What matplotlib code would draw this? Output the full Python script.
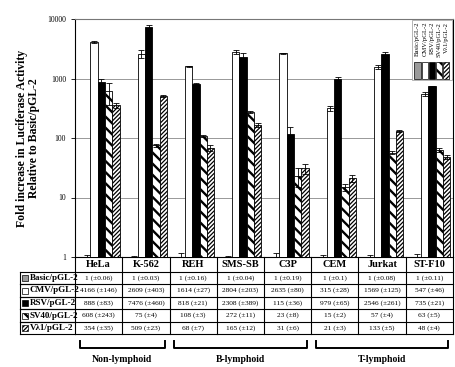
import numpy as np
import matplotlib
matplotlib.use("Agg")
import matplotlib.pyplot as plt
from matplotlib.patches import Rectangle
from matplotlib.ticker import FixedLocator, FixedFormatter

plt.rcParams['font.family'] = ['Liberation Serif', 'DejaVu Serif']
plt.rcParams['hatch.linewidth'] = 1.6

cells = ["HeLa", "K-562", "REH", "SMS-SB", "C3P", "CEM", "Jurkat", "ST-F10"]
constructs = ["Basic/pGL-2", "CMV/pGL-2", "RSV/pGL-2", "SV40/pGL-2", "V\u03bb1/pGL-2"]

basic = [1, 1, 1, 1, 1, 1, 1, 1]
basic_err = [0.06, 0.03, 0.16, 0.04, 0.19, 0.1, 0.08, 0.11]
cmv = [4166, 2609, 1614, 2804, 2635, 315, 1569, 547]
cmv_err = [146, 403, 27, 203, 80, 28, 125, 46]
rsv = [888, 7476, 818, 2308, 115, 979, 2546, 735]
rsv_err = [83, 460, 21, 389, 36, 65, 261, 21]
sv40 = [608, 75, 108, 272, 23, 15, 57, 63]
sv40_err = [243, 4, 3, 11, 8, 2, 4, 5]
vl1 = [354, 509, 68, 165, 31, 21, 133, 48]
vl1_err = [35, 23, 7, 12, 6, 3, 5, 4]

groups = ["Non-lymphoid", "B-lymphoid", "T-lymphoid"]
group_span = [(0, 2), (2, 5), (5, 8)]

values = [basic, cmv, rsv, sv40, vl1]
errors = [basic_err, cmv_err, rsv_err, sv40_err, vl1_err]
styles = [dict(facecolor="#9a9a9a", hatch=None),
          dict(facecolor="white", hatch=None),
          dict(facecolor="black", hatch=None),
          dict(facecolor="white", hatch="\\\\\\"),
          dict(facecolor="white", hatch="////////")]
hatch_lw = [1, 1, 1, 1.7, 0.9]

W, H = 456, 367
fig = plt.figure(figsize=(W / 100, H / 100), dpi=100)


def fx(px):
    return px / W


def fy(py):
    return 1 - py / H


def set_hlw(patch, k):
    if hasattr(patch, "set_hatch_linewidth"):
        patch.set_hatch_linewidth(hatch_lw[k])


ax = fig.add_axes([fx(75), fy(257), fx(453) - fx(75), fy(19) - fy(257)])
ax.set_yscale("log")
ax.set_ylim(1, 10000)
ax.set_xlim(0, len(cells))

x = np.arange(len(cells))
bw = 0.155
start = 0.17
for k in range(5):
    pos = x + start + k * bw + bw / 2
    bars = ax.bar(pos, np.array(values[k]) - 1, bottom=1, width=bw,
                  edgecolor="black", linewidth=0.6, zorder=3, **styles[k])
    for b in bars:
        set_hlw(b, k)
    ax.errorbar(pos, values[k], yerr=errors[k], fmt="none", ecolor="black",
                elinewidth=0.6, capsize=2.2, capthick=0.6, zorder=4)

ax.yaxis.set_major_locator(FixedLocator([1, 10, 100, 1000, 10000]))
ax.yaxis.set_major_formatter(FixedFormatter(["1", "10", "100", "1000", "10000"]))
ax.yaxis.set_minor_locator(FixedLocator([]))
ax.tick_params(axis="y", labelsize=5.5, length=3, width=0.6)
ax.set_xticks([])
ax.grid(axis="y", color="#888888", linewidth=0.6, zorder=0)
for s in ax.spines.values():
    s.set_linewidth(0.8)
ax.spines["top"].set_color("#777777")

fig.text(fx(28), fy(138), "Fold increase in Luciferase Activity\nRelative to Basic/pGL-2",
         rotation=90, ha="center", va="center", fontsize=8.5, fontweight="bold",
         linespacing=1.1)

# legend in the top right corner
lx0, lx1, ly0, ly1 = 412, 452, 20, 80
fig.add_artist(Rectangle((fx(lx0), fy(ly1)), fx(lx1) - fx(lx0), fy(ly0) - fy(ly1),
                         transform=fig.transFigure, facecolor="white",
                         edgecolor="#999999", linewidth=0.5, zorder=5))
step = (lx1 - lx0 - 4) / 5
for k in range(5):
    cx = lx0 + 2 + step * (k + 0.5)
    fig.text(fx(cx), fy(ly0 + 2), constructs[k], rotation=90, ha="center", va="top",
             fontsize=4.8, zorder=6)
    p = Rectangle((fx(cx - step / 2 + 0.5), fy(ly1 - 1)),
                  fx(step - 1), fy(62) - fy(ly1 - 1),
                  transform=fig.transFigure, edgecolor="black",
                  linewidth=0.5, zorder=6, **styles[k])
    set_hlw(p, k)
    fig.add_artist(p)

# data table under the plot
trans = matplotlib.transforms.blended_transform_factory(ax.transData, fig.transFigure)
row_tops = [257, 272, 284, 297, 309, 322, 334]
tab_left = 20
lw_t = 0.8
ax_line = dict(color="black", linewidth=lw_t, clip_on=False)
fig.add_artist(plt.Line2D([0, len(cells)], [fy(272)] * 2, transform=trans, **ax_line))
for i in range(len(cells) + 1):
    fig.add_artist(plt.Line2D([i, i], [fy(257), fy(334)], transform=trans, **ax_line))
for i, c in enumerate(cells):
    fig.text(i + 0.5, fy(264.5), c, transform=trans, ha="center", va="center",
             fontsize=7.5, fontweight="bold")
for r in range(5):
    ytop, ybot = row_tops[r + 1], row_tops[r + 2]
    fig.add_artist(plt.Line2D([fx(tab_left), fx(75)], [fy(ytop)] * 2,
                              transform=fig.transFigure, **ax_line))
    fig.add_artist(plt.Line2D([0, len(cells)], [fy(ybot)] * 2, transform=trans, **ax_line))
    fig.add_artist(plt.Line2D([fx(tab_left), fx(75)], [fy(ybot)] * 2,
                              transform=fig.transFigure, **ax_line))
    ym = (ytop + ybot) / 2
    p = Rectangle((fx(22), fy(ym + 3)), fx(6), fy(ym - 3) - fy(ym + 3),
                  transform=fig.transFigure, edgecolor="black",
                  linewidth=0.5, **styles[r])
    set_hlw(p, r)
    fig.add_artist(p)
    fig.text(fx(30), fy(ym), constructs[r], ha="left", va="center",
             fontsize=6.5, fontweight="bold")
    for i in range(len(cells)):
        fig.text(i + 0.5, fy(ym), f"{values[r][i]:g} (\u00b1{errors[r][i]:g})",
                 transform=trans, ha="center", va="center", fontsize=5.3)
fig.add_artist(plt.Line2D([fx(tab_left)] * 2, [fy(272), fy(334)],
                          transform=fig.transFigure, **ax_line))

# group brackets
for g, (a, b) in zip(groups, group_span):
    xa, xb = a + 0.1, b - 0.1
    fig.add_artist(plt.Line2D([xa, xa, xb, xb], [fy(341), fy(348), fy(348), fy(341)],
                              transform=trans, color="black", linewidth=1.4))
    fig.text((a + b) / 2, fy(359), g, transform=trans, ha="center", va="center",
             fontsize=7, fontweight="bold")

fig.savefig("out.png", dpi=100)
